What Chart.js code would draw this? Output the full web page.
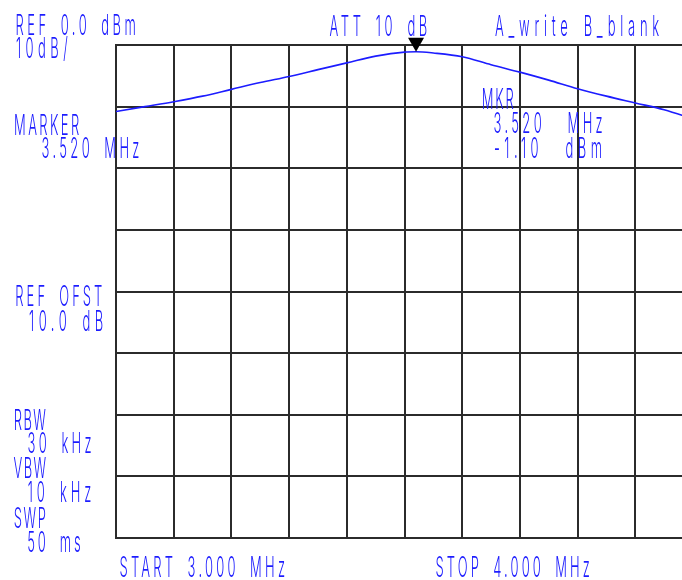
<!DOCTYPE html>
<html>
<head>
<meta charset="utf-8">
<script src="https://cdn.jsdelivr.net/npm/chart.js@4.4.0/dist/chart.umd.min.js"></script>
<style>
  html, body { margin: 0; padding: 0; background: #ffffff; overflow: hidden; }
  #wrap { width: 682px; height: 580px; overflow: hidden; position: relative; }
  canvas { display: block; }
</style>
</head>
<body>
<div id="wrap"><canvas id="c" width="720" height="580"></canvas></div>
<script>
// ---- data (frequency in MHz, level in dBm) ----
const freqMHz = [3.00, 3.05, 3.10, 3.15, 3.20, 3.25, 3.30, 3.35, 3.40, 3.45, 3.50, 3.52, 3.55, 3.60, 3.65, 3.70, 3.75, 3.80, 3.85, 3.90, 3.95, 4.00];
const levelDBm = [-10.8, -10.0, -9.2, -8.3, -7.2, -6.1, -5.1, -4.0, -2.9, -1.8, -1.15, -1.10, -1.3, -1.9, -3.2, -4.4, -5.7, -7.1, -8.3, -9.4, -10.5, -12.0];
const markerFreq = 3.52;
const markerLevel = -1.10;
const xRange = [3.0, 4.0];
const xStep = 0.1;
const yRange = [-80, 0];
const yStep = 10;
// ---- annotation texts ----
const labels = [
  "REF 0.0 dBm", "10dB/", "ATT 10 dB", "A_write B_blank",
  "MKR", "3.520  MHz", "-1.10  dBm",
  "MARKER", "3.520 MHz",
  "REF OFST", "10.0 dB",
  "RBW", "30 kHz", "VBW", "10 kHz", "SWP", "50 ms",
  "START 3.000 MHz", "STOP 4.000 MHz"
];
const labelPos = [
  [14, 35], [14, 58], [328, 36], [493, 36],
  [481, 109], [492, 133], [492, 158],
  [13, 135], [40, 158],
  [14, 306], [27, 331],
  [13, 430], [26, 453], [13, 478], [26, 502], [13, 528], [26, 552],
  [118, 577], [434, 577]
];

const BLUE = 'rgb(28,28,255)';
const GRID = '#2b2b2b';
const PITCH = 11.25;
const SX = 0.5, SY = 1.1;

// draw a whole string, spread to a fixed character pitch
function pitchedText(ctx, t, x, y) {
  ctx.save();
  ctx.letterSpacing = '0px';
  ctx.wordSpacing = '0px';
  const spaceW = ctx.measureText(' ').width;
  const total = ctx.measureText(t).width;
  const nSpace = (t.match(/ /g) || []).length;
  const nChar = t.length - nSpace;
  const glyphW = total - nSpace * spaceW;
  const cell = PITCH / SX;
  const L = (nChar * cell - glyphW) / nChar;
  const W = cell - spaceW - L;
  ctx.letterSpacing = L.toFixed(2) + 'px';
  ctx.wordSpacing = W.toFixed(2) + 'px';
  ctx.translate(x + L * SX * 0.45, y);
  ctx.scale(SX, SY);
  ctx.fillText(t, 0, 0);
  ctx.restore();
}

const overlay = {
  id: 'overlay',
  afterDatasetsDraw(chart) {
    const ctx = chart.ctx;
    const xs = chart.scales.x, ys = chart.scales.y;
    // marker triangle
    const px = xs.getPixelForValue(markerFreq);
    const py = ys.getPixelForValue(markerLevel);
    ctx.save();
    ctx.fillStyle = '#000';
    ctx.beginPath();
    ctx.moveTo(px, py);
    ctx.lineTo(px - 8, py - 14);
    ctx.lineTo(px + 8, py - 14);
    ctx.closePath();
    ctx.fill();
    ctx.restore();
    // texts
    ctx.save();
    ctx.fillStyle = BLUE;
    ctx.font = '300 26px Inter';
    ctx.textBaseline = 'alphabetic';
    ctx.textAlign = 'left';
    labels.forEach((t, i) => pitchedText(ctx, t, labelPos[i][0], labelPos[i][1]));
    ctx.restore();
  }
};

new Chart(document.getElementById('c'), {
  type: 'line',
  data: {
    datasets: [{
      data: freqMHz.map((f, i) => ({ x: f, y: levelDBm[i] })),
      borderColor: BLUE,
      borderWidth: 1.6,
      pointRadius: 0,
      fill: false,
      cubicInterpolationMode: 'monotone'
    }]
  },
  options: {
    responsive: false,
    animation: false,
    layout: { padding: { left: 116, top: 45, right: 27, bottom: 42 } },
    plugins: { legend: { display: false }, tooltip: { enabled: false } },
    scales: {
      x: {
        type: 'linear', min: xRange[0], max: xRange[1],
        ticks: { display: false, stepSize: xStep },
        grid: { color: GRID, lineWidth: 2, drawTicks: false },
        border: { display: true, color: GRID, width: 2 }
      },
      y: {
        type: 'linear', min: yRange[0], max: yRange[1],
        ticks: { display: false, stepSize: yStep },
        grid: { color: GRID, lineWidth: 2, drawTicks: false },
        border: { display: true, color: GRID, width: 2 }
      }
    }
  },
  plugins: [overlay]
});
</script>
</body>
</html>
